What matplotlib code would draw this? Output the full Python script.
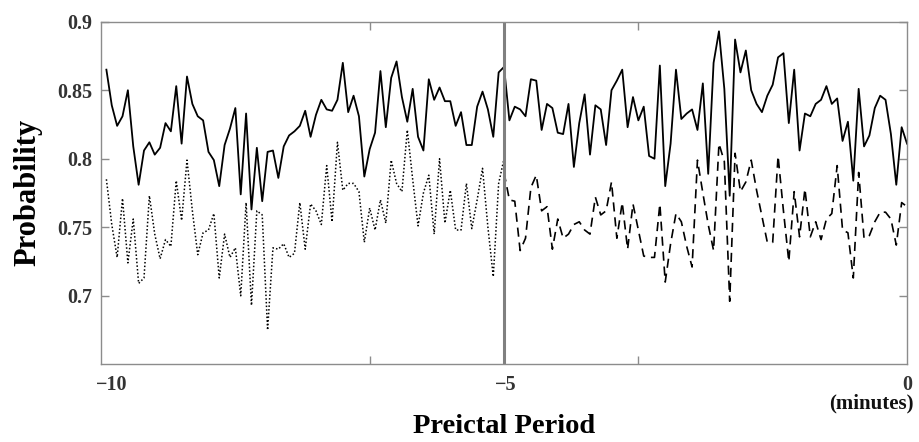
import numpy as np
import matplotlib
matplotlib.use("Agg")
import matplotlib.pyplot as plt

# samples every 4 s over the 10 minute preictal window
sample_idx = np.arange(1, 151)

solid_vals = [
    0.865, 0.839, 0.824, 0.831, 0.850, 0.809, 0.781, 0.806, 0.812, 0.803,
    0.808, 0.826, 0.820, 0.853, 0.811, 0.860, 0.840, 0.831, 0.828, 0.805,
    0.799, 0.780, 0.810, 0.822, 0.837, 0.774, 0.833, 0.763, 0.808, 0.769,
    0.805, 0.806, 0.786, 0.809, 0.817, 0.820, 0.824, 0.835, 0.816, 0.832,
    0.843, 0.836, 0.835, 0.843, 0.870, 0.834, 0.846, 0.831, 0.787, 0.807,
    0.819, 0.864, 0.823, 0.859, 0.871, 0.845, 0.827, 0.851, 0.816, 0.806,
    0.858, 0.843, 0.852, 0.842, 0.842, 0.824, 0.834, 0.810, 0.810, 0.838,
    0.849, 0.836, 0.816, 0.863, 0.867, 0.828, 0.838, 0.836, 0.831, 0.858,
    0.857, 0.821, 0.840, 0.837, 0.819, 0.818, 0.840, 0.794, 0.826, 0.847,
    0.803, 0.839, 0.836, 0.810, 0.850, 0.857, 0.865, 0.823, 0.845, 0.828,
    0.838, 0.802, 0.800, 0.868, 0.780, 0.811, 0.865, 0.829, 0.833, 0.836,
    0.821, 0.855, 0.789, 0.870, 0.893, 0.851, 0.773, 0.887, 0.863, 0.879,
    0.850, 0.840, 0.834, 0.846, 0.854, 0.874, 0.877, 0.826, 0.865, 0.806,
    0.833, 0.831, 0.840, 0.843, 0.853, 0.840, 0.844, 0.813, 0.827, 0.784,
    0.851, 0.809, 0.817, 0.837, 0.846, 0.843, 0.818, 0.781, 0.823, 0.811,
]

# first half (samples 1-75)
dotted_vals = [
    0.785, 0.752, 0.728, 0.771, 0.724, 0.756, 0.709, 0.713, 0.773, 0.745,
    0.727, 0.741, 0.736, 0.784, 0.755, 0.799, 0.762, 0.730, 0.746, 0.748,
    0.760, 0.713, 0.745, 0.728, 0.735, 0.700, 0.768, 0.693, 0.762, 0.759,
    0.675, 0.735, 0.734, 0.738, 0.728, 0.731, 0.768, 0.734, 0.767, 0.762,
    0.752, 0.795, 0.754, 0.812, 0.777, 0.782, 0.782, 0.776, 0.739, 0.764,
    0.748, 0.770, 0.753, 0.799, 0.782, 0.776, 0.821, 0.785, 0.751, 0.775,
    0.788, 0.745, 0.800, 0.753, 0.777, 0.748, 0.748, 0.782, 0.749, 0.770,
    0.793, 0.750, 0.714, 0.782, 0.800,
]

# second half (samples 75-150)
dashed_vals = [
    0.790,
    0.770, 0.769, 0.733, 0.742, 0.779, 0.788, 0.762, 0.765, 0.734, 0.756,
    0.742, 0.745, 0.752, 0.754, 0.748, 0.745, 0.772, 0.759, 0.762, 0.783,
    0.742, 0.768, 0.734, 0.767, 0.748, 0.729, 0.728, 0.728, 0.767, 0.710,
    0.738, 0.760, 0.754, 0.736, 0.721, 0.799, 0.775, 0.752, 0.733, 0.811,
    0.798, 0.696, 0.804, 0.776, 0.783, 0.799, 0.777, 0.758, 0.739, 0.739,
    0.802, 0.762, 0.725, 0.776, 0.743, 0.778, 0.743, 0.754, 0.741, 0.756,
    0.760, 0.795, 0.748, 0.746, 0.713, 0.790, 0.742, 0.744, 0.754, 0.761,
    0.761, 0.756, 0.737, 0.768, 0.765,
]

y_ticks = [0.7, 0.75, 0.8, 0.85, 0.9]
y_tick_labels = ["0.7", "0.75", "0.8", "0.85", "0.9"]
x_labels = [(2, "\u221210"), (75.3, "\u22125"), (150, "0")]

plt.rcParams["font.family"] = ["Liberation Serif", "DejaVu Serif"]
plt.rcParams["font.weight"] = "bold"

fig = plt.figure(figsize=(9.2, 4.42), dpi=100)
ax = fig.add_axes([0.1098, 0.1758, 0.8761, 0.7751])

ax.plot(sample_idx, solid_vals, color="black", lw=1.3)
ax.plot(sample_idx[:75], dotted_vals, color="black", lw=1.1, ls=(0, (1, 1.4)))
ax.plot(sample_idx[74:], dashed_vals, color="black", lw=1.2, ls=(0, (5.5, 3.5)))
ax.axvline(75, color="#808080", lw=2.2)

ax.set_xlim(0, 150)
ax.set_ylim(0.65, 0.9)

for s in ax.spines.values():
    s.set_color("#8c8c8c")
    s.set_linewidth(1.0)

ax.set_yticks(y_ticks)
ax.set_yticklabels(y_tick_labels, fontsize=14.5, fontweight="bold", color="#333333")
ax.set_xticks([50, 100])
ax.set_xticklabels([])
ax.tick_params(axis="both", direction="in", length=6, color="#8c8c8c",
               top=True, right=True, width=1.0)
ax.tick_params(axis="y", pad=6)

xt = ax.get_xaxis_transform()
for xv, txt in x_labels:
    ax.text(xv, -0.06, txt, transform=xt, ha="center", va="center",
            fontsize=14.5, fontweight="bold", color="#333333")
ax.text(143.3, -0.115, "(minutes)", transform=xt, ha="center", va="center",
        fontsize=15, fontweight="bold", color="#111111")

fig.text(0.548, 0.034, "Preictal Period", ha="center", va="center",
         fontsize=20.5, fontweight="bold")
fig.text(0.03, 0.565, "Probability", ha="center", va="center", rotation=90,
         fontsize=22, fontweight="bold")

fig.savefig("out.png", dpi=100)
